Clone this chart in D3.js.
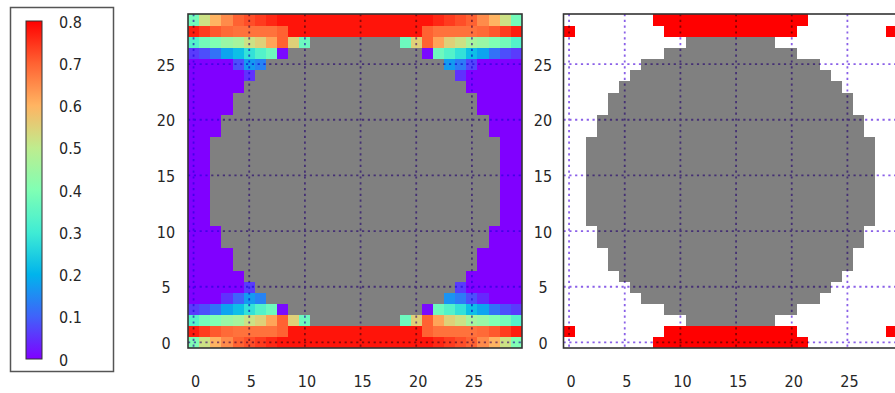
<!DOCTYPE html>
<html><head><meta charset="utf-8">
<script src="https://cdn.jsdelivr.net/npm/d3@7"></script>
<style>
html,body{margin:0;padding:0;background:#fff;overflow:hidden}
svg{display:block}
text{font-family:"DejaVu Sans Condensed","DejaVu Sans",sans-serif;font-size:16px;fill:#262626}
</style></head><body>
<svg id="chart" width="895" height="393"></svg>
<script>
const G = null;
const xTicks = [0, 5, 10, 15, 20, 25];
const yTicks = [0, 5, 10, 15, 20, 25];
const colorbarTicks = [0, 0.1, 0.2, 0.3, 0.4, 0.5, 0.6, 0.7, 0.8];
const colorbarLabels = ["0", "0.1", "0.2", "0.3", "0.4", "0.5", "0.6", "0.7", "0.8"];
const colormapStops = [0, 0.1, 0.2, 0.3, 0.4, 0.5, 0.6, 0.7, 0.8];
const colormapColors = ["#8000ff", "#4062fa", "#00b4ec", "#40ecd4", "#80ffb4", "#bfec8e", "#ffb462", "#ff6232", "#ff0000"];

// Left map: rows listed top (y=29) to bottom (y=0); null = grey solid cell
const leftRowsTopDown = [
 [0.38,0.52,0.60,0.65,0.70,0.72,0.74,0.76, 0.78,0.78,0.78,0.78,0.78,0.78,0.78, 0.78,0.78,0.78,0.78,0.78,0.78,0.78, 0.76,0.74,0.72,0.70,0.65,0.60,0.52,0.38],
 [0.77,0.74,0.71,0.69,0.68,0.68,0.68,0.68,0.70, 0.78,0.78,0.78,0.78,0.78,0.78, 0.78,0.78,0.78,0.78,0.78,0.78, 0.70,0.68,0.68,0.68,0.68,0.69,0.71,0.74,0.77],
 [0.33,0.38,0.40,0.44,0.46,0.52,0.55,0.62,0.70,0.55,0.37, G,G,G,G, G,G,G,G, 0.37,0.55,0.70,0.62,0.55,0.52,0.46,0.44,0.40,0.38,0.33],
 [0.06,0.08,0.12,0.18,0.22,0.28,0.33,0.37,0.01, G,G,G,G,G,G, G,G,G,G,G,G, 0.01,0.37,0.33,0.28,0.22,0.18,0.12,0.08,0.06],
 [0,0,0,0,0.08,0.17,0.14, G,G,G,G,G,G,G,G, G,G,G,G,G,G,G,G, 0.17,0.13,0.07,0,0,0,0],
 [0,0,0,0,0,0.05, G,G,G,G,G,G,G,G,G, G,G,G,G,G,G,G,G,G, 0.05,0,0,0,0,0],
 [0,0,0,0,0, G,G,G,G,G, G,G,G,G,G, G,G,G,G,G, G,G,G,G,G, 0,0,0,0,0],
 [0,0,0,0, G,G,G,G,G, G,G,G,G,G, G,G,G,G,G, G,G,G,G,G, G,G, 0,0,0,0],
 [0,0,0,0, G,G,G,G,G, G,G,G,G,G, G,G,G,G,G, G,G,G,G,G, G,G, 0,0,0,0],
 [0,0,0, G,G,G,G,G, G,G,G,G,G, G,G,G,G,G, G,G,G,G,G, G,G,G,G, 0,0,0],
 [0,0,0, G,G,G,G,G, G,G,G,G,G, G,G,G,G,G, G,G,G,G,G, G,G,G,G, 0,0,0],
 [0,0, G,G,G,G,G, G,G,G,G,G, G,G,G,G,G, G,G,G,G,G, G,G,G,G,G, G, 0,0],
 [0,0, G,G,G,G,G, G,G,G,G,G, G,G,G,G,G, G,G,G,G,G, G,G,G,G,G, G, 0,0],
 [0,0, G,G,G,G,G, G,G,G,G,G, G,G,G,G,G, G,G,G,G,G, G,G,G,G,G, G, 0,0],
 [0,0, G,G,G,G,G, G,G,G,G,G, G,G,G,G,G, G,G,G,G,G, G,G,G,G,G, G, 0,0],
 [0,0, G,G,G,G,G, G,G,G,G,G, G,G,G,G,G, G,G,G,G,G, G,G,G,G,G, G, 0,0],
 [0,0, G,G,G,G,G, G,G,G,G,G, G,G,G,G,G, G,G,G,G,G, G,G,G,G,G, G, 0,0],
 [0,0, G,G,G,G,G, G,G,G,G,G, G,G,G,G,G, G,G,G,G,G, G,G,G,G,G, G, 0,0],
 [0,0, G,G,G,G,G, G,G,G,G,G, G,G,G,G,G, G,G,G,G,G, G,G,G,G,G, G, 0,0],
 [0,0,0, G,G,G,G,G, G,G,G,G,G, G,G,G,G,G, G,G,G,G,G, G,G,G,G, 0,0,0],
 [0,0,0, G,G,G,G,G, G,G,G,G,G, G,G,G,G,G, G,G,G,G,G, G,G,G,G, 0,0,0],
 [0,0,0,0, G,G,G,G,G, G,G,G,G,G, G,G,G,G,G, G,G,G,G,G, G,G, 0,0,0,0],
 [0,0,0,0, G,G,G,G,G, G,G,G,G,G, G,G,G,G,G, G,G,G,G,G, G,G, 0,0,0,0],
 [0,0,0,0,0, G,G,G,G,G, G,G,G,G,G, G,G,G,G,G, G,G,G,G,G, 0,0,0,0,0],
 [0,0,0,0,0,0.06, G,G,G,G,G,G,G,G,G, G,G,G,G,G,G,G,G,G, 0.06,0,0,0,0,0],
 [0,0,0,0.05,0.10,0.17,0.14, G,G,G,G,G,G,G,G, G,G,G,G,G,G,G,G, 0.16,0.13,0.08,0.04,0,0,0],
 [0.06,0.08,0.12,0.18,0.22,0.28,0.33,0.37,0.01, G,G,G,G,G,G, G,G,G,G,G,G, 0.01,0.37,0.33,0.28,0.22,0.18,0.12,0.08,0.06],
 [0.33,0.38,0.40,0.44,0.46,0.52,0.55,0.62,0.70,0.55,0.37, G,G,G,G, G,G,G,G, 0.37,0.55,0.70,0.62,0.55,0.52,0.46,0.44,0.40,0.38,0.33],
 [0.77,0.74,0.71,0.69,0.68,0.68,0.68,0.68,0.70, 0.78,0.78,0.78,0.78,0.78,0.78, 0.78,0.78,0.78,0.78,0.78,0.78, 0.70,0.68,0.68,0.68,0.68,0.69,0.71,0.74,0.77],
 [0.40,0.52,0.60,0.65,0.70,0.72,0.74,0.76, 0.78,0.78,0.78,0.78,0.78,0.78,0.78, 0.78,0.78,0.78,0.78,0.78,0.78,0.78, 0.76,0.74,0.72,0.70,0.65,0.60,0.52,0.40]
];

// Right map: run-length rows, top (y=29) to bottom (y=0); w = white, r = red, g = grey
const rightRowsTopDown = [
 [["w",8],["r",14],["w",8]],
 [["r",1],["w",8],["r",12],["w",8],["r",1]],
 [["w",11],["g",8],["w",11]],
 [["w",9],["g",12],["w",9]],
 [["w",7],["g",16],["w",7]],
 [["w",6],["g",18],["w",6]],
 [["w",5],["g",20],["w",5]],
 [["w",4],["g",22],["w",4]],
 [["w",4],["g",22],["w",4]],
 [["w",3],["g",24],["w",3]],
 [["w",3],["g",24],["w",3]],
 [["w",2],["g",26],["w",2]],
 [["w",2],["g",26],["w",2]],
 [["w",2],["g",26],["w",2]],
 [["w",2],["g",26],["w",2]],
 [["w",2],["g",26],["w",2]],
 [["w",2],["g",26],["w",2]],
 [["w",2],["g",26],["w",2]],
 [["w",2],["g",26],["w",2]],
 [["w",3],["g",24],["w",3]],
 [["w",3],["g",24],["w",3]],
 [["w",4],["g",22],["w",4]],
 [["w",4],["g",22],["w",4]],
 [["w",5],["g",20],["w",5]],
 [["w",6],["g",18],["w",6]],
 [["w",7],["g",16],["w",7]],
 [["w",9],["g",12],["w",9]],
 [["w",11],["g",8],["w",11]],
 [["r",1],["w",8],["r",12],["w",8],["r",1]],
 [["w",8],["r",14],["w",8]]
];
const rightColors = {w: "#ffffff", r: "#ff0000", g: "#808080"};
const greyColor = "#808080";

const svg = d3.select("#chart");
const defs = svg.append("defs");
const color = d3.scaleLinear().domain(colormapStops).range(colormapColors).interpolate(d3.interpolateRgb).clamp(true);

// ---------- colorbar ----------
svg.append("rect").attr("x", 10.5).attr("y", 7.5).attr("width", 103).attr("height", 364)
  .attr("fill", "#fff").attr("stroke", "#555").attr("stroke-width", 1.5);
const grad = defs.append("linearGradient").attr("id", "cbar")
  .attr("x1", 0).attr("y1", 1).attr("x2", 0).attr("y2", 0);
const cbScale = d3.scaleLinear().domain([0, 0.8]).range([359, 21]);
d3.range(0, 41).forEach(i => {
  const v = i * 0.02;
  grad.append("stop").attr("offset", (v / 0.8)).attr("stop-color", color(v));
});
svg.append("rect").attr("x", 26).attr("y", cbScale(0.8)).attr("width", 16)
  .attr("height", cbScale(0) - cbScale(0.8)).attr("fill", "url(#cbar)")
  .attr("stroke", "#333").attr("stroke-width", 1);
svg.append("g").selectAll("text").data(colorbarTicks).join("text")
  .attr("x", 59).attr("y", d => cbScale(d) + 1).attr("dominant-baseline", "central")
  .text((d, i) => colorbarLabels[i]);

// ---------- heatmap panels ----------
function drawPanel(x0, cellFn, gridColor, yLabelX) {
  const xs = d3.scaleLinear().domain([-0.5, 29.5]).range([x0, x0 + 334]);
  const ys = d3.scaleLinear().domain([-0.5, 29.5]).range([348, 14]);
  const g = svg.append("g");
  const clipId = "clip" + Math.round(x0);
  defs.append("clipPath").attr("id", clipId)
    .append("rect").attr("x", x0).attr("y", 14).attr("width", 334).attr("height", 334);
  const cells = [];
  for (let yi = 0; yi < 30; yi++) for (let xi = 0; xi < 30; xi++) {
    const c = cellFn(xi, yi);
    if (c) cells.push({xi, yi, c});
  }
  const cg = g.append("g").attr("clip-path", `url(#${clipId})`);
  cg.append("g").attr("shape-rendering", "crispEdges").selectAll("rect").data(cells).join("rect")
    .attr("x", d => xs(d.xi - 0.5)).attr("y", d => ys(d.yi + 0.5))
    .attr("width", d => xs(d.xi + 0.5) - xs(d.xi - 0.5) + 0.6)
    .attr("height", d => ys(d.yi - 0.5) - ys(d.yi + 0.5) + 0.6)
    .attr("fill", d => d.c);
  const grid = cg.append("g").style("mix-blend-mode", "multiply")
    .attr("stroke", gridColor).attr("stroke-width", 1.8).attr("stroke-dasharray", "2.2,3.6");
  grid.selectAll("line.v").data(xTicks).join("line").attr("class", "v")
    .attr("x1", d => xs(d)).attr("x2", d => xs(d)).attr("y1", 14).attr("y2", 348);
  grid.selectAll("line.h").data(yTicks).join("line").attr("class", "h")
    .attr("y1", d => ys(d)).attr("y2", d => ys(d)).attr("x1", x0).attr("x2", x0 + 334);
  g.append("rect").attr("x", x0).attr("y", 14).attr("width", 334).attr("height", 334)
    .attr("fill", "none").attr("stroke", "#333").attr("stroke-width", 1.6);
  g.selectAll("text.x").data(xTicks).join("text").attr("class", "x")
    .attr("x", d => xs(d) + 2).attr("y", 381).attr("text-anchor", "middle")
    .attr("dominant-baseline", "central").text(d => d);
  g.selectAll("text.y").data(yTicks).join("text").attr("class", "y")
    .attr("x", yLabelX).attr("y", d => ys(d) + 1).attr("text-anchor", "middle")
    .attr("dominant-baseline", "central").text(d => d);
}

drawPanel(188, (xi, yi) => {
  const v = leftRowsTopDown[29 - yi][xi];
  return v === null ? greyColor : color(v);
}, "#8a60e8", 166);

const rightGrid = rightRowsTopDown.map(runs => runs.flatMap(([k, n]) => Array(n).fill(k)));
drawPanel(563.5, (xi, yi) => rightColors[rightGrid[29 - yi][xi]], "#8a60e8", 543);
</script>
</body></html>
